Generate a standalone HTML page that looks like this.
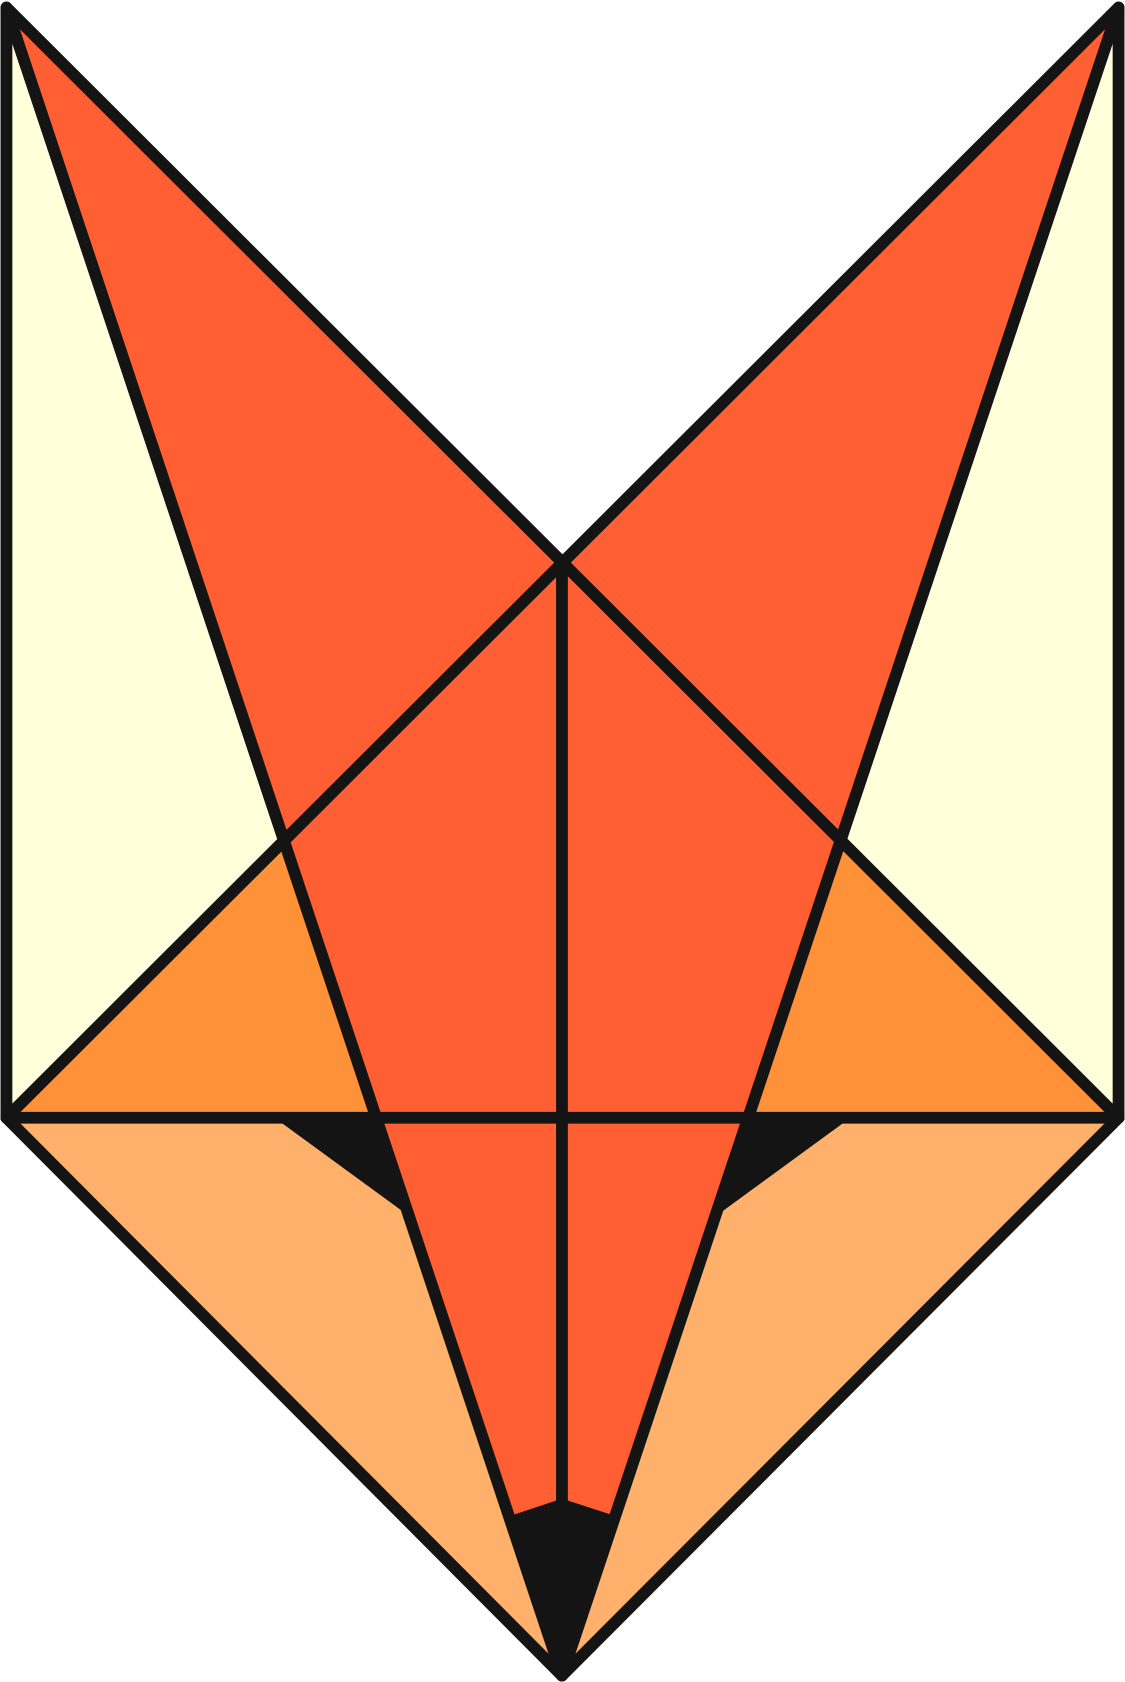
<!DOCTYPE html>
<html><head><meta charset="utf-8"><style>
html,body{margin:0;padding:0;background:#fff;width:1125px;height:1682px;overflow:hidden}
svg{display:block}
</style></head><body>
<svg width="1125" height="1682" viewBox="0 0 1049 1568" preserveAspectRatio="none" xmlns="http://www.w3.org/2000/svg">
<g stroke="none">
<polygon fill="#FFFFDA" points="6,7 262,782 6,1042"/>
<polygon fill="#FFFFDA" points="1043,7 787,782 1043,1042"/>
<polygon fill="#FF5F33" points="6,7 524,522 262,782"/>
<polygon fill="#FF5F33" points="1043,7 524,522 787,782"/>
<polygon fill="#FF5F33" points="524,522 787,782 524,1562 262,782"/>
<polygon fill="#FF9238" points="262,782 350,1042 6,1042"/>
<polygon fill="#FF9238" points="787,782 699,1042 1043,1042"/>
<polygon fill="#FFB16C" points="6,1042 350,1042 524,1562"/>
<polygon fill="#FFB16C" points="1043,1042 699,1042 524,1562"/>
<polygon fill="#141414" points="256,1042 352,1042 382,1134"/>
<polygon fill="#141414" points="793,1042 697,1042 667,1134"/>
<polygon fill="#141414" points="476,1413 524,1397 573,1413 524,1562"/>
</g>
<g fill="none" stroke="#141414" stroke-width="11" stroke-linejoin="round" stroke-linecap="round">
<polyline points="6,1042 6,7 1043,1042"/>
<polyline points="1043,1042 1043,7 6,1042"/>
<polyline points="6,1042 524,1562 1043,1042"/>
<line x1="6" y1="1042" x2="1043" y2="1042"/>
<line x1="524" y1="522" x2="524" y2="1400"/>
<line x1="6" y1="7" x2="524" y2="1562"/>
<line x1="1043" y1="7" x2="524" y2="1562"/>
</g>
</svg>
</body></html>
